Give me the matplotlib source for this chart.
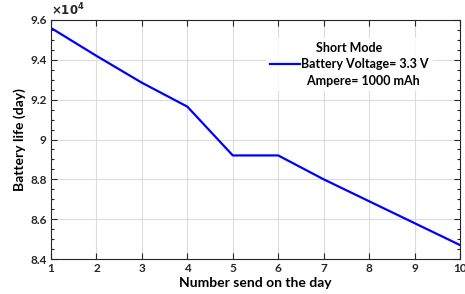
import matplotlib
matplotlib.use("Agg")
from matplotlib import pyplot as plt
from matplotlib.ticker import FuncFormatter, MultipleLocator, AutoMinorLocator
from matplotlib.lines import Line2D

# data
sends = [1, 2, 3, 4, 5, 6, 7, 8, 9, 10]
life_days = [95600, 94200, 92850, 91650, 89200, 89200, 88000, 86900, 85800, 84700]
legend_title = "Short Mode"
legend_rows = ["Battery Voltage= 3.3 V", "  Ampere= 1000 mAh"]

plt.rcParams['font.family'] = ['Lato', 'DejaVu Sans']
plt.rcParams['font.weight'] = 'bold'

fig = plt.figure(figsize=(4.65, 2.94), dpi=100, facecolor='w')
ax = fig.add_axes([51 / 465, 1 - 259 / 294, 409 / 465, 239 / 294])

ax.plot(sends, life_days, color='#0000ff', lw=1.6)

ax.set_xlim(1, 10)
ax.set_ylim(84000, 96000)
ax.xaxis.set_major_locator(MultipleLocator(1))
ax.yaxis.set_major_locator(MultipleLocator(2000))
ax.yaxis.set_minor_locator(AutoMinorLocator(4))
ax.yaxis.set_major_formatter(FuncFormatter(lambda v, p: '%g' % (v / 1e4)))
ax.tick_params(which='both', direction='in', top=True, right=True,
               labelsize=8.5, colors='#262626', width=0.8)
ax.tick_params(which='major', length=4, pad=3)
ax.tick_params(which='minor', length=2)
for lab in ax.get_xticklabels() + ax.get_yticklabels():
    lab.set_fontweight('bold')
ax.grid(True, color='#dcdcdc', lw=0.8)
for s in ax.spines.values():
    s.set_color('#262626')
    s.set_linewidth(0.8)

ax.text(0.0, 1.01, r'$\times10^4$', transform=ax.transAxes, fontsize=8.5,
        ha='left', va='bottom', color='#262626')

ax.set_xlabel('Number send on the day', fontsize=10, fontweight='bold', labelpad=2)
ax.set_ylabel('Battery life (day)', fontsize=10, fontweight='bold', labelpad=3)

handles = [Line2D([], [], color='#0000ff', lw=1.6), Line2D([], [], color='none')]
leg = ax.legend(handles, legend_rows, title=legend_title, loc='upper right',
                bbox_to_anchor=(0.947, 0.95), frameon=True, fontsize=9,
                title_fontsize=9, handlelength=2.4, handletextpad=0.1,
                borderpad=0.3, labelspacing=0.35, fancybox=False)
leg.get_frame().set_edgecolor('white')
leg.get_title().set_fontweight('bold')
for t in leg.get_texts():
    t.set_fontweight('bold')

fig.savefig('out.png', dpi=100)
